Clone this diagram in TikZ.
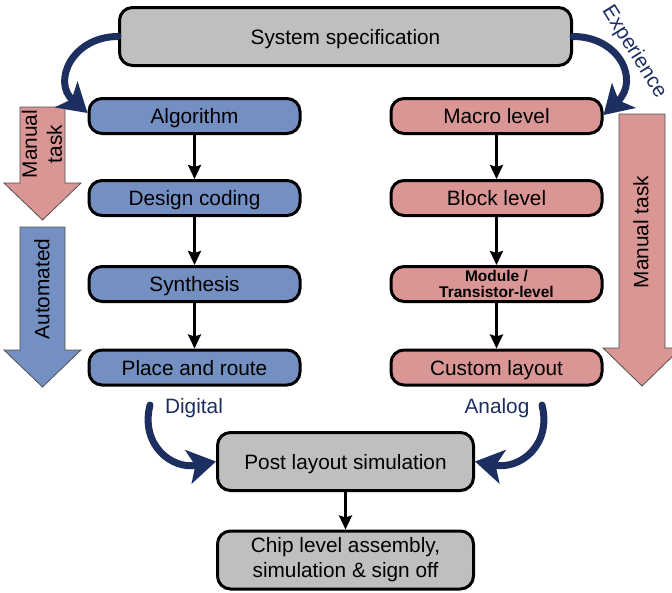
\documentclass[tikz,border=0pt]{standalone}
\usepackage{fontspec}
\setmainfont{Liberation Sans}
\usetikzlibrary{arrows.meta}
\definecolor{specgray}{RGB}{191,191,191}
\definecolor{digblue}{RGB}{116,143,194}
\definecolor{anapink}{RGB}{217,150,148}
\definecolor{flownavy}{RGB}{29,47,96}
\definecolor{edgegray}{RGB}{80,80,80}
\tikzset{
  boxbase/.style={draw=black, line width=3pt, rounded corners=13pt,
    minimum width=211pt, minimum height=35pt, inner sep=0pt,
    font=\fontsize{20.8}{25}\selectfont},
  stage/.style={boxbase, text height=15pt, text depth=0pt},
  digital/.style={stage, fill=digblue},
  analog/.style={stage, fill=anapink},
  common/.style={stage, fill=specgray, minimum width=256pt, minimum height=58pt},
  flow/.style={draw=black, line width=2.5pt, -{Stealth[length=14pt,width=13pt,inset=2pt]}},
  sweep/.style={draw=flownavy, line width=7pt, line cap=round,
    -{Stealth[length=28pt,width=34pt,inset=7pt]}},
  sweeplabel/.style={text=flownavy, font=\fontsize{20.8}{25}\selectfont},
  bigarrow/.style={draw=edgegray, line width=0.8pt},
  arrowtext/.style={rotate=90, align=center, font=\fontsize{20.8}{25}\selectfont}
}
\begin{document}
\begin{tikzpicture}[x=1pt,y=-1pt]
  \clip (0,0) rectangle (672,592);

  % wide side arrows
  \draw[bigarrow, fill=anapink] (20,107) -- (65,107) -- (65,183) -- (81,183)
    -- (42.5,220) -- (4,183) -- (20,183) -- cycle;
  \node[arrowtext] (mtleft) at (42,144) {Manual\\task};
  \draw[bigarrow, fill=digblue] (20,227) -- (65,227) -- (65,350) -- (81,350)
    -- (42.5,387) -- (4,350) -- (20,350) -- cycle;
  \node[arrowtext] (auto) at (42,289) {Automated};
  \draw[bigarrow, fill=anapink] (619,114) -- (665,114) -- (665,348) -- (681,348)
    -- (642,386) -- (603,348) -- (619,348) -- cycle;
  \node[arrowtext] (mtright) at (641,232) {Manual task};

  % flow stages
  \node[common, minimum width=452pt] (spec) at (345.5,36.5) {System specification};

  \node[digital] (alg)  at (194.5,116)   {Algorithm};
  \node[digital] (code) at (194.5,198)   {Design coding};
  \node[digital] (syn)  at (194.5,284)   {Synthesis};
  \node[digital] (par)  at (194.5,367.5) {Place and route};

  \node[analog] (mac) at (496.5,116)   {Macro level};
  \node[analog] (blk) at (496.5,198)   {Block level};
  \node[boxbase, fill=anapink, align=center,
        font=\fontsize{15.5}{16}\selectfont\bfseries] (mod) at (496.5,284)
        {Module /\\Transistor-level};
  \node[analog] (cus) at (496.5,367.5) {Custom layout};

  \node[common] (post) at (345.5,461.5) {Post layout simulation};
  \node[boxbase, fill=specgray, minimum width=256pt, minimum height=58pt,
        align=center] (chip) at (345.5,560)
        {Chip level assembly,\\simulation \& sign off};

  % straight connectors
  \draw[flow] (alg) -- (code);
  \draw[flow] (code) -- (syn);
  \draw[flow] (syn) -- (par);
  \draw[flow] (mac) -- (blk);
  \draw[flow] (blk) -- (mod);
  \draw[flow] (mod) -- (cus);
  \draw[flow] (post) -- (chip);

  % curved hand-over arrows
  \draw[sweep] (spec.west) .. controls (72,36.5) and (52,82) .. ([yshift=3pt]alg.west);
  \draw[sweep] (spec.east) .. controls (619,36.5) and (640,80) .. ([yshift=1pt]mac.east);

  \coordinate (dstart) at (150,405);
  \coordinate (astart) at (542,405);
  \draw[sweep] (dstart) .. controls (140,445) and (172,470) .. (post.west);
  \draw[sweep] (astart) .. controls (552,445) and (520,470) .. (post.east);

  \node[sweeplabel] (dig) at (194,408) {Digital};
  \node[sweeplabel] (ana) at (497,408) {Analog};
  \node[sweeplabel, rotate=-58] (exp) at (634,52) {Experience};
\end{tikzpicture}
\end{document}
